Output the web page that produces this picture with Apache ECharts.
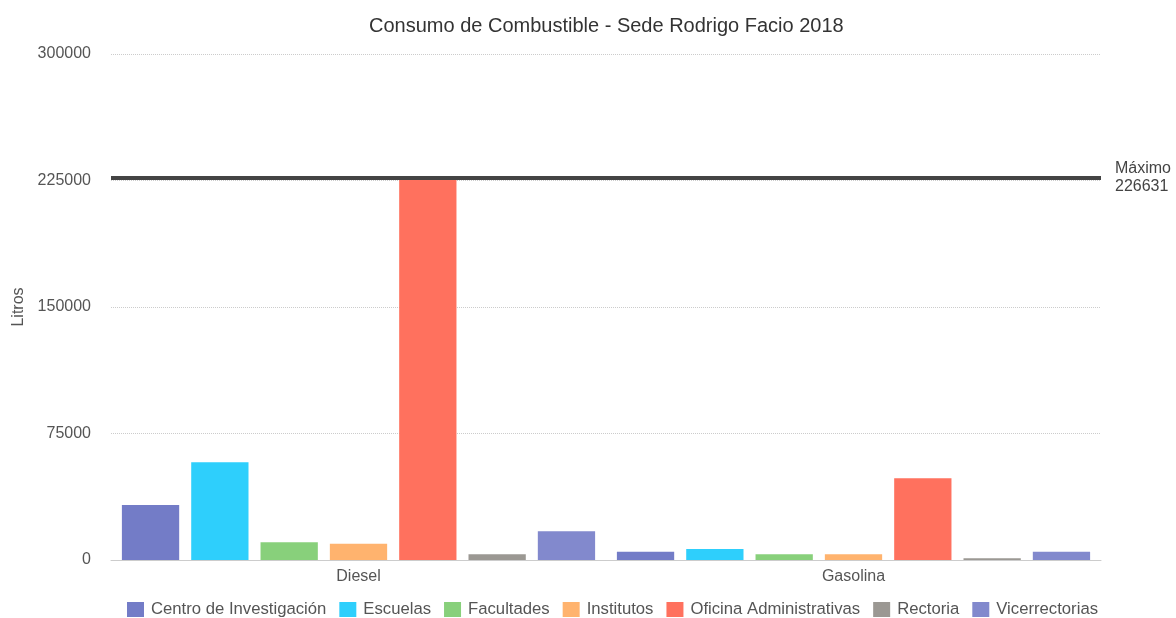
<!DOCTYPE html>
<html>
<head>
<meta charset="utf-8">
<script src="https://cdn.jsdelivr.net/npm/echarts@6/dist/echarts.min.js"></script>
<style>
  html, body { margin: 0; padding: 0; background: #fff; }
  #chart { width: 1176px; height: 618px; }
</style>
</head>
<body>
<div id="chart"></div>
<script>
// Fuel types on the x axis
const categories = ['Diesel', 'Gasolina'];

// Litres consumed per unit, [Diesel, Gasolina]
const centroInvestigacion = [32600, 4900];
const escuelas = [57900, 6500];
const facultades = [10500, 3400];
const institutos = [9700, 3400];
const oficinaAdministrativas = [226631, 48400];
const rectoria = [3400, 1000];
const vicerrectorias = [17000, 4900];

const seriesNames = ['Centro de Investigación', 'Escuelas', 'Facultades', 'Institutos',
  'Oficina Administrativas', 'Rectoria', 'Vicerrectorias'];
const seriesValues = [centroInvestigacion, escuelas, facultades, institutos,
  oficinaAdministrativas, rectoria, vicerrectorias];
const seriesColors = ['#737cc7', '#2ecffc', '#88d07b', '#ffb36e', '#ff715e', '#9b9893', '#8289cd'];

// y axis ticks
const yMin = 0, yMax = 300000, yStep = 75000;

const font = '"Liberation Sans", Arial, Helvetica, sans-serif';

const series = seriesNames.map((name, i) => {
  const s = {
    name: name,
    type: 'bar',
    data: seriesValues[i],
    itemStyle: { color: seriesColors[i] },
    barGap: '21%',
    barCategoryGap: '4.4%'
  };
  if (name === 'Oficina Administrativas') {
    // horizontal reference line at the largest consumption
    s.markLine = {
      symbol: 'none',
      silent: true,
      lineStyle: { color: '#444', width: 4, type: 'solid' },
      label: {
        position: 'end',
        formatter: 'Máximo\n{c}',
        color: '#444',
        fontSize: 16,
        fontFamily: font,
        lineHeight: 18,
        distance: 14
      },
      data: [{ type: 'max', name: 'Máximo' }]
    };
  }
  return s;
});

const chart = echarts.init(document.getElementById('chart'));
chart.setOption({
  animation: false,
  title: {
    text: 'Consumo de Combustible - Sede Rodrigo Facio 2018',
    left: 364,
    top: 11,
    textStyle: { color: '#333', fontSize: 20, fontWeight: 'normal', fontFamily: font }
  },
  legend: {
    bottom: 0,
    left: 127,
    padding: 0,
    itemWidth: 17,
    itemHeight: 15,
    itemGap: 13,
    icon: 'rect',
    textStyle: { color: '#555', fontSize: 16.7, fontFamily: font, padding: [0, 0, 0, 2] }
  },
  grid: { left: 111, right: 75, top: 54, bottom: 58 },
  xAxis: {
    type: 'category',
    data: categories,
    axisLine: { lineStyle: { color: '#ccc' } },
    axisTick: { show: false },
    axisLabel: { color: '#555', fontSize: 16, fontFamily: font, margin: 9 }
  },
  yAxis: {
    type: 'value',
    name: 'Litros',
    nameLocation: 'middle',
    nameGap: 83,
    nameRotate: 90,
    nameTextStyle: { color: '#555', fontSize: 16, fontFamily: font },
    min: yMin,
    max: yMax,
    interval: yStep,
    axisLine: { show: false },
    axisTick: { show: false },
    axisLabel: { color: '#555', fontSize: 16, fontFamily: font, margin: 20, formatter: v => String(v) },
    splitLine: { lineStyle: { color: '#ccc', type: [1, 1] } }
  },
  series: series
});
</script>
</body>
</html>
